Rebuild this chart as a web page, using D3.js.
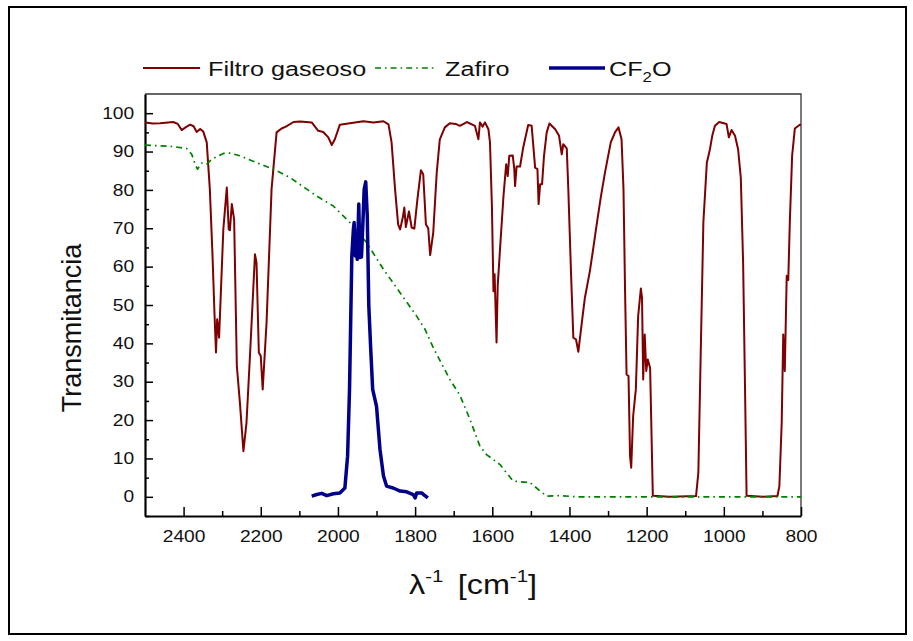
<!DOCTYPE html>
<html>
<head>
<meta charset="utf-8">
<script src="https://cdn.jsdelivr.net/npm/d3@7"></script>
<style>
  body { margin: 0; background: #fff; }
  svg { display: block; font-family: "Liberation Sans", Arial, sans-serif; }
</style>
</head>
<body>
<svg width="913" height="641"></svg>
<script>
// wavenumber (cm^-1) / transmittance (%)
const filtroX = [2500, 2480, 2461, 2440, 2427, 2415, 2405, 2395, 2383, 2374, 2366, 2357, 2349, 2340, 2332, 2325, 2320, 2316, 2313, 2308,
  2297, 2288, 2283, 2280, 2275, 2269, 2262, 2254, 2245, 2237, 2228, 2215, 2211, 2205, 2200, 2195, 2185, 2172, 2159, 2146,
  2135, 2115, 2098, 2068, 2051, 2038, 2025, 2016, 2008, 1995, 1969, 1934, 1908, 1882, 1869, 1861, 1852, 1844, 1839, 1832,
  1828, 1824, 1816, 1809, 1802, 1794, 1785, 1779, 1772, 1766, 1761, 1753, 1744, 1736, 1723, 1710, 1695, 1684, 1666, 1645,
  1636, 1632, 1625, 1619, 1610, 1606, 1601, 1597, 1594, 1589, 1586, 1580, 1571, 1564, 1560, 1556, 1547, 1543, 1541, 1537,
  1528, 1520, 1507, 1498, 1489, 1483, 1480, 1476, 1471, 1466, 1459, 1452, 1437, 1427, 1420, 1416, 1407, 1403, 1396, 1390,
  1383, 1377, 1368, 1360, 1347, 1338, 1330, 1319, 1308, 1293, 1282, 1273, 1265, 1260, 1256, 1252, 1247, 1243, 1240, 1235,
  1228, 1222, 1215, 1212, 1209, 1205, 1201, 1197, 1191, 1184, 1140, 1072, 1066, 1060, 1053, 1044, 1036, 1030, 1023, 1012,
  993, 987, 980, 971, 963, 956, 950, 945, 941, 898, 861, 856, 850, 846, 842, 837, 833, 829, 823, 816, 803, 800];
const filtroY = [97.6, 97.3, 97.4, 97.6, 97.7, 97.2, 95.6, 96.3, 97.0, 96.6, 95.1, 95.9, 95.2, 92.4, 80.2, 62.8, 48, 37.6, 46.3, 41.5,
  69.7, 80.6, 69.7, 69.5, 76.3, 72.3, 34.1, 24.5, 11.9, 19.3, 36.7, 63.2, 61, 37.6, 36.7, 28, 45.4, 80.2, 95, 96,
  96.5, 97.7, 97.8, 97.6, 95.4, 95.1, 93.7, 91.7, 93.2, 97, 97.4, 97.9, 97.6, 97.9, 97.1, 92.4, 80.2, 71, 69.7, 72.8,
  75.4, 70.3, 74.4, 70.2, 69.9, 77.6, 85.1, 84.1, 71, 70, 63, 68.9, 84.5, 93.2, 96.3, 97.4, 97.2, 96.7, 97.7, 96.7,
  93.2, 97.6, 96.5, 97.6, 95.8, 92.4, 75.8, 53.6, 58, 40.2, 55, 64.5, 78.4, 86.7, 83.6, 88.9, 89, 85.4, 81, 86.1,
  86.1, 91, 96.9, 96.7, 85.8, 85.4, 76.3, 81.5, 81.5, 88.9, 95, 97.3, 95.8, 94.1, 89.3, 91.9, 90.8, 80.2, 58.4, 41.5,
  41, 37.8, 45.4, 51.9, 58.9, 65, 70.6, 78, 84.5, 92.4, 95, 96.3, 93.2, 80.2, 54.1, 31.9, 31.5, 10.6, 7.6, 21,
  28, 47.1, 54.3, 51.9, 30.6, 42.3, 32.8, 35.8, 33.6, 0.3, 0, 0.2, 6.3, 36.7, 71.5, 87.1, 90.6, 94.1, 96.7, 97.7,
  97.2, 93.7, 95.6, 94.1, 90.6, 83.2, 61, 28, 0.3, 0, 0.2, 2.8, 19.3, 42.3, 32.8, 57.6, 56.5, 71.5, 88.9, 96, 97, 97];

const zafiroX = [2500, 2427, 2392, 2379, 2370, 2364, 2353, 2340, 2327, 2297, 2280, 2254, 2211, 2167, 2124, 2081, 2055, 2012, 1969, 1926,
  1882, 1839, 1796, 1774, 1753, 1710, 1684, 1658, 1632, 1615, 1580, 1546, 1502, 1476, 1459, 1424, 1381, 1243, 1000, 800];
const zafiroY = [91.7, 91.3, 90.8, 89.3, 86.7, 85.4, 87, 86.7, 88, 89.5, 89.6, 88.9, 87.1, 85.4, 83.2, 80.2, 78.4, 75.8, 71.5, 66.3,
  59.3, 53.2, 47.1, 43.6, 38.9, 30.6, 26.5, 20.2, 13.2, 11, 8.4, 4.1, 3.7, 1.5, 0.2, 0.3, 0, 0, 0, 0];

const cf2oX = [2068, 2055, 2042, 2029, 2012, 1995, 1982, 1975, 1970, 1967, 1964, 1960, 1958, 1955, 1952, 1950, 1946, 1943, 1939, 1936,
  1932, 1928, 1924, 1920, 1915, 1910, 1900, 1891, 1882, 1874, 1857, 1839, 1822, 1805, 1800, 1796, 1783, 1778, 1767];
const cf2oY = [0.2, 0.6, 0.9, 0.3, 0.8, 1, 2.3, 10.6, 28, 45.4, 62.8, 69.7, 71.5, 62.8, 68, 61.9, 76.3, 62.4, 62.5, 69.7,
  80.2, 82.1, 73.2, 49.7, 38.4, 28, 23.6, 12.3, 5.4, 2.8, 2.3, 1.5, 1.3, 0.6, -0.3, 1, 1, 0.6, -0.3];

const xTicks = [2400, 2200, 2000, 1800, 1600, 1400, 1200, 1000, 800];
const xMinor = [2300, 2100, 1900, 1700, 1500, 1300, 1100, 900];
const yTicks = [0, 10, 20, 30, 40, 50, 60, 70, 80, 90, 100];
const yMinor = [-5, 5, 15, 25, 35, 45, 55, 65, 75, 85, 95];

const svg = d3.select("svg");
const plot = { left: 145, right: 801, top: 94, bottom: 516 };
const stretch = 1.2; // text in the reference is drawn wide

// outer frame
svg.append("rect")
  .attr("x", 9).attr("y", 7).attr("width", 897).attr("height", 627)
  .attr("fill", "none").attr("stroke", "#000").attr("stroke-width", 2);

const x = d3.scaleLinear().domain([2500, 800]).range([plot.left, plot.right]);
const y = d3.scaleLinear().domain([-5, 105]).range([plot.bottom, plot.top]);

// top + right frame of the plot
svg.append("path")
  .attr("d", `M${plot.left},${plot.top}H${plot.right}V${plot.bottom}`)
  .attr("fill", "none").attr("stroke", "#333").attr("stroke-width", 1.3);

// minor ticks
svg.append("g")
  .attr("transform", `translate(${plot.left},0)`)
  .call(d3.axisLeft(y).tickValues(yMinor).tickSize(-4).tickFormat(""))
  .call(g => g.select(".domain").remove())
  .selectAll("line").attr("stroke-width", 1.5);
svg.append("g")
  .attr("transform", `translate(0,${plot.bottom})`)
  .call(d3.axisBottom(x).tickValues(xMinor).tickSize(-5).tickFormat(""))
  .call(g => g.select(".domain").remove())
  .selectAll("line").attr("stroke-width", 1.5);

// major axes
const yAxis = svg.append("g")
  .attr("transform", `translate(${plot.left},0)`)
  .call(d3.axisLeft(y).tickValues(yTicks).tickSizeInner(-8).tickSizeOuter(0).tickPadding(9).tickFormat(d3.format("d")));
const xAxis = svg.append("g")
  .attr("transform", `translate(0,${plot.bottom})`)
  .call(d3.axisBottom(x).tickValues(xTicks).tickSizeInner(-9).tickSizeOuter(0).tickPadding(14.6).tickFormat(d3.format("d")));

[yAxis, xAxis].forEach(g => {
  g.select(".domain").attr("stroke-width", 2.2);
  g.selectAll(".tick line").attr("stroke-width", 1.5);
  g.selectAll(".tick text")
    .attr("font-size", 16)
    .attr("font-family", "Liberation Sans, Arial, sans-serif")
    .attr("fill", "#111")
    .attr("transform", `scale(${stretch},1)`);
});

// series
const series = [
  { name: "Filtro gaseoso", xs: filtroX, ys: filtroY, color: "#7f0000", width: 2, dash: null },
  { name: "Zafiro", xs: zafiroX, ys: zafiroY, color: "#008000", width: 1.7, dash: "6,4,1.6,4" },
  { name: "CF2O", xs: cf2oX, ys: cf2oY, color: "#00008b", width: 3.5, dash: null }
];

const line = d3.line().x(d => x(d[0])).y(d => y(d[1]));

svg.append("clipPath").attr("id", "clip")
  .append("rect").attr("x", plot.left).attr("y", plot.top)
  .attr("width", plot.right - plot.left).attr("height", plot.bottom - plot.top);

series.forEach(s => {
  svg.append("path")
    .attr("clip-path", "url(#clip)")
    .attr("d", line(s.xs.map((v, i) => [v, s.ys[i]])))
    .attr("fill", "none")
    .attr("stroke", s.color)
    .attr("stroke-width", s.width)
    .attr("stroke-linejoin", "round")
    .attr("stroke-dasharray", s.dash);
});

// legend
const legendItems = [
  { x0: 143, x1: 200, tx: 208, s: series[0] },
  { x0: 375, x1: 435, tx: 445, s: series[1] },
  { x0: 549, x1: 605, tx: 609, s: series[2] }
];
legendItems.forEach(it => {
  svg.append("line")
    .attr("x1", it.x0).attr("x2", it.x1).attr("y1", 68).attr("y2", 68)
    .attr("stroke", it.s.color).attr("stroke-width", it.s.width)
    .attr("stroke-dasharray", it.s.dash);
  const t = svg.append("g").attr("transform", `translate(${it.tx},76) scale(${stretch},1)`)
    .append("text").attr("font-size", 21).attr("fill", "#111");
  if (it.s.name === "CF2O") {
    t.append("tspan").text("CF");
    t.append("tspan").attr("font-size", 14).attr("dy", 6).text("2");
    t.append("tspan").attr("dy", -6).text("O");
  } else {
    t.text(it.s.name);
  }
});

// axis titles
svg.append("text")
  .attr("transform", "translate(81,328) rotate(-90)")
  .attr("text-anchor", "middle")
  .attr("font-size", 27)
  .attr("fill", "#111")
  .text("Transmitancia");

const xt = svg.append("g")
  .attr("transform", `translate(${(plot.left + plot.right) / 2},594) scale(${stretch},1)`)
  .append("text").attr("text-anchor", "middle").attr("font-size", 27).attr("fill", "#111");
xt.append("tspan").text("λ");
xt.append("tspan").attr("font-size", 17).attr("dy", -12).text("-1");
xt.append("tspan").attr("dy", 12).attr("dx", 12).text("[cm");
xt.append("tspan").attr("font-size", 17).attr("dy", -12).text("-1");
xt.append("tspan").attr("dy", 12).text("]");
</script>
</body>
</html>
